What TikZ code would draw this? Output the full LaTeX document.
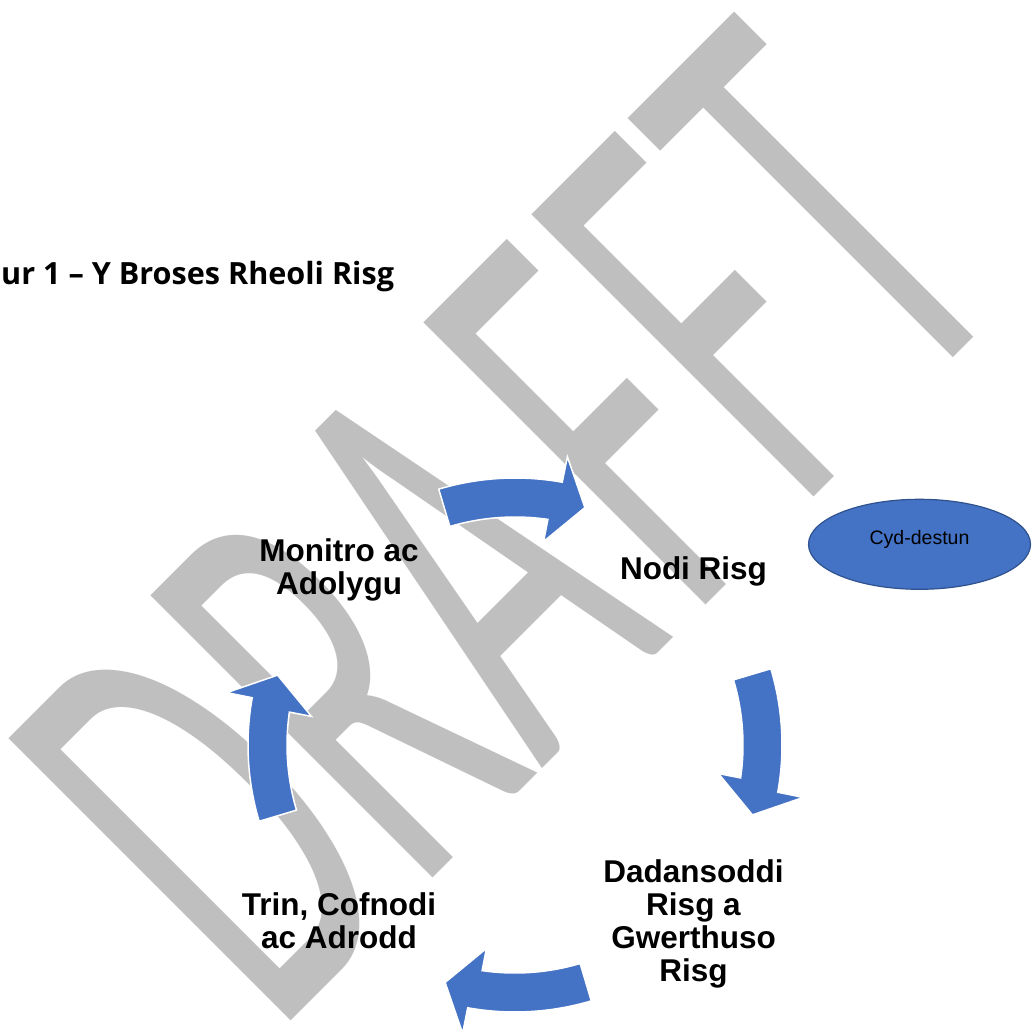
\documentclass[tikz,border=0pt]{standalone}
\usepackage{fontspec}
\setmainfont{Liberation Sans}
\newfontfamily\wmfont{Carlito}
\newfontfamily\titlefont{Open Sans}
\usetikzlibrary{shapes.geometric}
\definecolor{wmgray}{RGB}{191,191,191}
\definecolor{arrowblue}{RGB}{68,114,196}
\definecolor{ellborder}{RGB}{47,82,143}
\begin{document}
\begin{tikzpicture}[x=1pt,y=-1pt,
  lbl/.style={font=\fontsize{31.5}{32.8}\bfseries\selectfont, align=center, inner sep=0pt, anchor=base},
  cyc/.style={fill=arrowblue, draw=white, line width=1.5pt, line join=miter},
  wm/.style={rotate=45, anchor=base west, inner sep=0pt, outer sep=0pt, text=wmgray}]
\useasboundingbox (0,0) rectangle (1033,1035);
% watermark
\node[wm] (draft) at (275,1036)
  {\scalebox{1}[1.914]{\wmfont\fontsize{325}{325}\selectfont DRA\kern23ptF\kern3ptF\kern6ptT}};
% title
\node[anchor=base west, inner sep=0pt, font=\titlefont\fontsize{30.6}{36}\bfseries\selectfont] (title) at (1,284.3) {ur 1 – Y Broses Rheoli Risg};
% cycle arrows
\begin{scope}[shift={(515,745)}, y=1pt]
\foreach \t in {106.6,16.6,-73.4,-163.4} {
  \path[cyc] (\t:267) arc[start angle=\t, end angle={\t-26.8}, radius=267]
    -- ({\t-26.9}:293) -- ({\t-33}:247.5) -- ({\t-24.6}:205.5) -- ({\t-24.9}:228)
    arc[start angle={\t-24.9}, end angle=\t, radius=228] -- cycle;
}
\end{scope}
% labels (anchor = baseline of the last line)
\node[lbl] (mon) at (339,594) {Monitro ac\\Adolygu};
\node[lbl] (nodi) at (693.5,579) {Nodi Risg};
\node[lbl] (dad) at (693.5,981) {Dadansoddi\\Risg a\\Gwerthuso\\Risg};
\node[lbl] (trin) at (339,948.5) {Trin, Cofnodi\\ac Adrodd};
% context ellipse
\node[ellipse, draw=ellborder, fill=arrowblue, line width=1.2pt, minimum width=222pt, minimum height=90pt, inner sep=0pt,
  font=\fontsize{19.5}{23}\selectfont, text height=5.2pt, text depth=4pt] (ctx) at (919.5,544.3) {Cyd-destun};
\end{tikzpicture}
\end{document}
